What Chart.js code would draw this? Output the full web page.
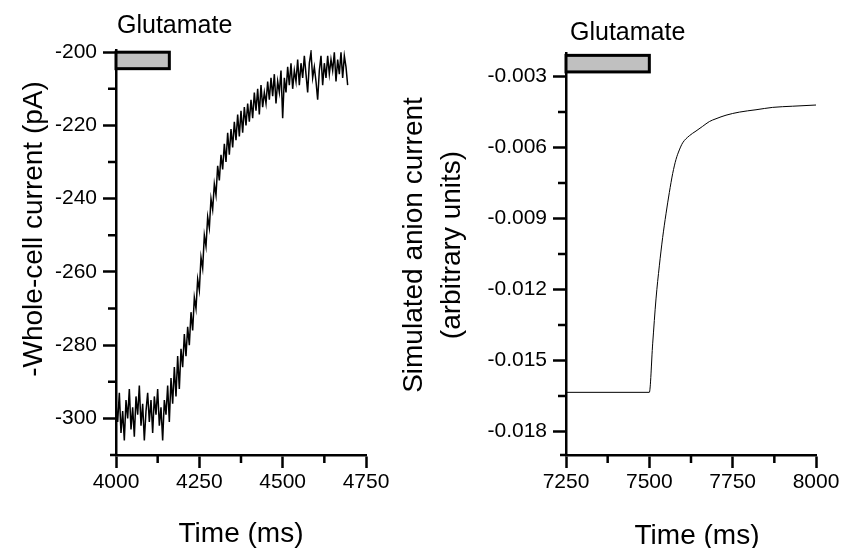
<!DOCTYPE html>
<html>
<head>
<meta charset="utf-8">
<script src="https://cdn.jsdelivr.net/npm/chart.js@4.4.1/dist/chart.umd.min.js"></script>
<style>
  body { margin: 0; background: #fff; }
  #wrap { position: relative; width: 842px; height: 548px; }
  #leftChart { position: absolute; left: 0; top: 0; }
  #rightChart { position: absolute; left: 395px; top: 0; }
</style>
</head>
<body>
<div id="wrap">
  <canvas id="leftChart" width="395" height="548"></canvas>
  <canvas id="rightChart" width="447" height="548"></canvas>
</div>
<script>
// Recorded whole-cell current (pA), sampled every 5 ms from 4000 ms
const leftStart = 4000;
const leftStep = 5;
const leftCurrent = [
  -296, -301, -293, -304, -298, -306, -295, -300, -292, -303,
  -297, -305, -294, -299, -291, -302, -296, -306, -298, -293,
  -301, -295, -304, -294, -299, -292, -302, -297, -306, -295,
  -299, -291, -301, -289, -296, -286, -294, -283, -292, -281,
  -286, -277, -283, -275, -280, -271, -276, -267, -270, -262,
  -265, -256, -259, -250, -253, -245, -248, -240, -243, -236,
  -239, -231, -235, -228, -232, -225, -230, -222, -228, -221,
  -226, -219, -224, -217, -223, -216, -222, -215, -220, -214,
  -219, -213, -218, -211, -216, -210, -217, -209, -215, -211,
  -214, -208, -213, -207, -212, -206, -214, -208, -211, -205,
  -218, -207, -211, -204, -209, -203, -210, -205, -208, -202,
  -209, -203, -207, -201, -206, -211, -203, -200, -207, -204,
  -208, -213, -205, -201, -209, -203, -207, -201, -206, -202,
  -205, -200, -208, -202, -206, -200, -207, -201, -204, -209,
];

// Simulated anion current (arbitrary units)
const simTimes = [
  7250, 7500, 7510, 7520, 7530, 7540, 7550, 7560, 7570, 7580, 7590,
  7600, 7620, 7640, 7660, 7680, 7700, 7730, 7770, 7820, 7870, 7930, 8000,
];
const simCurrent = [
  -0.01635, -0.01635, -0.0143, -0.0124, -0.011, -0.0098, -0.0088, -0.0079,
  -0.0071, -0.0065, -0.0061, -0.0058, -0.0055, -0.0053, -0.0051, -0.0049,
  -0.00478, -0.00463, -0.0045, -0.0044, -0.0043, -0.00425, -0.0042,
];

// Axis ticks
const leftXTicks = [4000, 4250, 4500, 4750];
const leftYTicks = [-300, -280, -260, -240, -220, -200];
const rightXTicks = [7250, 7500, 7750, 8000];
const rightYTicks = [-0.018, -0.015, -0.012, -0.009, -0.006, -0.003];

// Glutamate application (ms)
const leftStim = [4000, 4160];
const rightStim = [7250, 7500];

const FONT = "'Liberation Sans', Arial, sans-serif";
Chart.defaults.color = "#000";
Chart.defaults.font.family = FONT;

function midpoints(arr) {
  const out = [];
  for (let i = 1; i < arr.length; i++) out.push((arr[i - 1] + arr[i]) / 2);
  return out;
}

// Minor ticks, glutamate bar and all titles
function makeDecor(cfg) {
  return {
    id: "decor",
    afterDraw(chart) {
      const { ctx, chartArea } = chart;
      const xs = chart.scales.x;
      const ys = chart.scales.y;
      ctx.save();

      ctx.strokeStyle = "#000";
      ctx.lineWidth = 2.5;
      ctx.beginPath();
      midpoints(cfg.xTicks).forEach((v) => {
        const px = xs.getPixelForValue(v);
        ctx.moveTo(px, chartArea.bottom);
        ctx.lineTo(px, chartArea.bottom + 8);
      });
      midpoints(cfg.yTicks).forEach((v) => {
        const py = ys.getPixelForValue(v);
        ctx.moveTo(chartArea.left, py);
        ctx.lineTo(chartArea.left - 8, py);
      });
      // x axis line runs a little past the y axis, as in the original
      ctx.moveTo(chartArea.left - 6, chartArea.bottom);
      ctx.lineTo(chartArea.left, chartArea.bottom);
      ctx.stroke();

      const x0 = xs.getPixelForValue(cfg.stim[0]);
      const x1 = xs.getPixelForValue(cfg.stim[1]);
      const y0 = ys.getPixelForValue(cfg.stimY[0]);
      const y1 = ys.getPixelForValue(cfg.stimY[1]);
      ctx.fillStyle = "#c0c0c0";
      ctx.fillRect(x0, y0, x1 - x0, y1 - y0);
      ctx.lineWidth = 3;
      ctx.strokeRect(x0, y0, x1 - x0, y1 - y0);

      ctx.fillStyle = "#000";
      ctx.textBaseline = "alphabetic";
      ctx.font = `25px ${FONT}`;
      ctx.textAlign = "left";
      ctx.fillText("Glutamate", cfg.stimLabel[0], cfg.stimLabel[1]);

      ctx.font = `28px ${FONT}`;
      ctx.textAlign = "center";
      ctx.fillText("Time (ms)", cfg.xTitle[0], cfg.xTitle[1]);
      cfg.yTitle.forEach((line, i) => {
        ctx.save();
        ctx.translate(cfg.yTitleX[i], cfg.yTitleY);
        ctx.rotate(-Math.PI / 2);
        ctx.fillText(line, 0, 0);
        ctx.restore();
      });
      ctx.restore();
    },
  };
}

function axis(min, max, tickValues, format, fit, pad) {
  return {
    type: "linear",
    min: min,
    max: max,
    afterBuildTicks: (scale) => {
      scale.ticks = tickValues.map((v) => ({ value: v }));
    },
    afterFit: fit,
    grid: {
      drawOnChartArea: false,
      drawTicks: true,
      tickLength: 13,
      tickWidth: 2.5,
      tickColor: "#000",
    },
    border: { display: true, color: "#000", width: 2.5 },
    ticks: {
      color: "#000",
      font: { family: FONT, size: 21 },
      padding: pad,
      maxRotation: 0,
      autoSkip: false,
      callback: format,
    },
  };
}

const baseOptions = {
  responsive: false,
  animation: false,
  events: [],
  plugins: { legend: { display: false }, tooltip: { enabled: false } },
};

// Left panel: recorded current
new Chart(document.getElementById("leftChart"), {
  type: "line",
  data: {
    datasets: [
      {
        data: leftCurrent.map((v, i) => ({ x: leftStart + i * leftStep, y: v })),
        borderColor: "#000",
        borderWidth: 1.5,
        pointRadius: 0,
        tension: 0,
      },
    ],
  },
  options: {
    ...baseOptions,
    layout: { padding: { left: 0, top: 50, right: 29, bottom: 0 } },
    scales: {
      x: axis(4000, 4750, leftXTicks, (v) => v, (s) => { s.height = 93; }, 2),
      y: axis(-310, -199.4, leftYTicks, (v) => v, (s) => { s.width = 116; }, 6),
    },
  },
  plugins: [
    makeDecor({
      xTicks: leftXTicks,
      yTicks: leftYTicks,
      stim: leftStim,
      stimY: [-200, -204.5],
      stimLabel: [117, 33],
      xTitle: [241, 542],
      yTitle: ["-Whole-cell current (pA)"],
      yTitleX: [42],
      yTitleY: 229,
    }),
  ],
});

// Right panel: simulated current
new Chart(document.getElementById("rightChart"), {
  type: "line",
  data: {
    datasets: [
      {
        data: simTimes.map((t, i) => ({ x: t, y: simCurrent[i] })),
        borderColor: "#000",
        borderWidth: 1,
        pointRadius: 0,
        cubicInterpolationMode: "monotone",
      },
    ],
  },
  options: {
    ...baseOptions,
    layout: { padding: { left: 0, top: 53, right: 26, bottom: 0 } },
    scales: {
      x: axis(7250, 8000, rightXTicks, (v) => v, (s) => { s.height = 93; }, 2),
      y: axis(-0.019, -0.002, rightYTicks, (v) => v.toFixed(3), (s) => { s.width = 171; }, 6),
    },
  },
  plugins: [
    makeDecor({
      xTicks: rightXTicks,
      yTicks: rightYTicks,
      stim: rightStim,
      stimY: [-0.0021, -0.0028],
      stimLabel: [175, 40],
      xTitle: [302, 544],
      yTitle: ["Simulated anion current", "(arbitrary units)"],
      yTitleX: [27, 65],
      yTitleY: 245,
    }),
  ],
});
</script>
</body>
</html>
